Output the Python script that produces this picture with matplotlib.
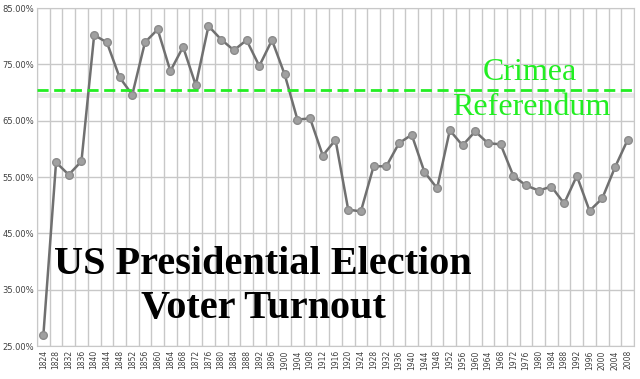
import numpy as np
import matplotlib.pyplot as plt
from matplotlib.ticker import FuncFormatter

# Явка на президентских выборах США, %
years = list(range(1824, 2009, 4))
turnout = [26.9, 57.6, 55.4, 57.8, 80.2, 78.9, 72.7, 69.6, 78.9, 81.2,
           73.8, 78.1, 71.3, 81.8, 79.4, 77.5, 79.3, 74.7, 79.3, 73.2,
           65.2, 65.4, 58.8, 61.6, 49.2, 48.9, 56.9, 56.9, 61.0, 62.5,
           55.9, 53.0, 63.3, 60.6, 63.1, 61.0, 60.8, 55.2, 53.5, 52.6,
           53.3, 50.3, 55.2, 49.0, 51.2, 56.7, 61.6]
crimea_level = 70.4

fig = plt.figure(figsize=(6.4, 3.79), dpi=100)
ax = fig.add_axes([37 / 640, 33 / 379, 597 / 640, 338 / 379])

x = np.arange(len(years))
ax.plot(x, turnout, color='#707070', linewidth=1.8, marker='o', markersize=5.5,
        markerfacecolor='#a0a0a0', markeredgecolor='#8a8a8a', zorder=3)

# линия референдума с размытой тенью
ax.axhline(crimea_level - 0.8, color='#d4d4d4', linewidth=3.5, alpha=0.5, zorder=2)
ax.axhline(crimea_level, color='#22ee22', linewidth=2, linestyle=(0, (4, 2)), zorder=4)

ax.set_xlim(-0.5, len(years) - 0.5)
ax.set_ylim(25, 85)
ax.set_yticks(np.arange(25, 86, 10))
ax.yaxis.set_major_formatter(FuncFormatter(lambda v, p: f'{v:.2f}%'))
ax.set_xticks(x)
ax.set_xticklabels([str(y) for y in years], rotation=90)
ax.set_xticks(np.arange(-0.5, len(years), 1), minor=True)

ax.tick_params(axis='y', labelsize=6, colors='#404040', length=0, pad=2)
ax.tick_params(axis='x', which='major', labelsize=5.5, colors='#404040', length=0, pad=3)
ax.tick_params(axis='x', which='minor', length=0)
ax.grid(True, axis='y', color='#c8c8c8', linewidth=1)
ax.grid(True, axis='x', which='minor', color='#c8c8c8', linewidth=1)
for s in ax.spines.values():
    s.set_color('#c8c8c8')

ax.text(38.3, 73.6, 'Crimea', color='#22ee22', fontsize=23, family='Liberation Serif',
        ha='center', va='center', zorder=5)
ax.text(38.4, 67.4, 'Referendum', color='#22ee22', fontsize=23, family='Liberation Serif',
        ha='center', va='center', zorder=5)

ax.text(17.3, 39.4, 'US Presidential Election', color='black', fontsize=29,
        family='Liberation Serif', weight='bold', ha='center', va='center', zorder=5)
ax.text(17.3, 31.6, 'Voter Turnout', color='black', fontsize=29,
        family='Liberation Serif', weight='bold', ha='center', va='center', zorder=5)

fig.savefig('out.png', dpi=100)
